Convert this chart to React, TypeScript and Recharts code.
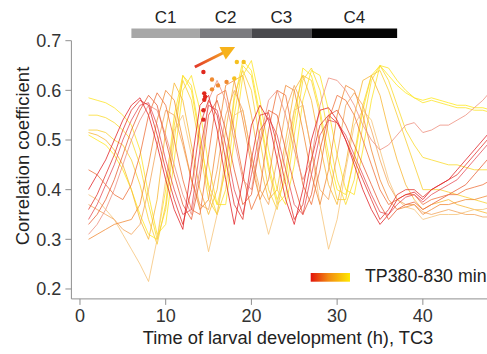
import React from "react";
import { ComposedChart, Line, Scatter, XAxis, YAxis, ReferenceArea, ReferenceLine } from "recharts";

const FONT = "'Liberation Sans', Arial, Helvetica, sans-serif";

// hours of larval development sampled by each profile
const hours = [
  1, 2, 3, 4, 5, 6, 7, 8, 9, 10, 11, 12, 13, 14, 15, 16, 17, 18, 19, 20, 21, 22, 23, 24,
  25, 26, 27, 28, 29, 30, 31, 32, 33, 34, 35, 36, 37, 38, 39, 40, 41, 42, 43, 44, 45, 46, 47, 48,
];

// correlation profiles, TP380 (red) ... TP830 (yellow)
const tp380 = [
  0.4, 0.43, 0.46, 0.5, 0.54, 0.57, 0.585, 0.55, 0.49, 0.42, 0.36, 0.32,
  0.45, 0.57, 0.59, 0.52, 0.42, 0.33, 0.42, 0.53, 0.57, 0.54, 0.46, 0.38,
  0.33, 0.4, 0.5, 0.56, 0.565, 0.54, 0.5, 0.45, 0.4, 0.36, 0.33, 0.35,
  0.38, 0.39, 0.395, 0.38, 0.4, 0.41, 0.42, 0.44, 0.46, 0.48, 0.5, 0.52,
];
const tp415 = [
  0.36, 0.39, 0.43, 0.47, 0.52, 0.56, 0.58, 0.57, 0.51, 0.44, 0.38, 0.33,
  0.4, 0.53, 0.58, 0.55, 0.46, 0.37, 0.34, 0.46, 0.55, 0.555, 0.49, 0.41,
  0.34, 0.37, 0.46, 0.53, 0.55, 0.535, 0.5, 0.46, 0.42, 0.38, 0.34, 0.36,
  0.39, 0.4, 0.4, 0.385, 0.4, 0.41, 0.42, 0.43, 0.45, 0.47, 0.49, 0.51,
];
const tp450 = [
  0.34, 0.37, 0.41, 0.45, 0.5, 0.54, 0.57, 0.575, 0.53, 0.46, 0.4, 0.35,
  0.36, 0.48, 0.57, 0.56, 0.49, 0.4, 0.35, 0.43, 0.52, 0.545, 0.51, 0.44,
  0.37, 0.35, 0.43, 0.51, 0.54, 0.535, 0.51, 0.47, 0.43, 0.39, 0.355, 0.35,
  0.37, 0.385, 0.39, 0.375, 0.39, 0.4, 0.41, 0.42, 0.44, 0.46, 0.48, 0.5,
];
const tp485 = [
  0.33, 0.35, 0.38, 0.42, 0.47, 0.52, 0.56, 0.59, 0.57, 0.5, 0.43, 0.37,
  0.34, 0.42, 0.55, 0.58, 0.52, 0.44, 0.37, 0.39, 0.49, 0.56, 0.55, 0.48,
  0.41, 0.35, 0.39, 0.48, 0.55, 0.56, 0.53, 0.49, 0.45, 0.41, 0.37, 0.34,
  0.36, 0.37, 0.375, 0.36, 0.37, 0.38, 0.39, 0.4, 0.41, 0.43, 0.45, 0.47,
];
const tp520 = [
  0.31, 0.33, 0.36, 0.4, 0.45, 0.5, 0.54, 0.57, 0.56, 0.51, 0.45, 0.39,
  0.35, 0.44, 0.58, 0.62, 0.58, 0.5, 0.42, 0.4, 0.5, 0.58, 0.6, 0.55,
  0.48, 0.42, 0.46, 0.57, 0.625, 0.62, 0.6, 0.57, 0.53, 0.5, 0.48, 0.49,
  0.51, 0.53, 0.535, 0.515, 0.52, 0.53, 0.53, 0.54, 0.55, 0.565, 0.58, 0.6,
];
const tp555 = [
  0.44, 0.43, 0.41, 0.39, 0.38, 0.41, 0.47, 0.55, 0.595, 0.57, 0.5, 0.42,
  0.36, 0.35, 0.47, 0.59, 0.6, 0.52, 0.43, 0.36, 0.4, 0.52, 0.6, 0.59,
  0.5, 0.41, 0.37, 0.44, 0.54, 0.59, 0.58, 0.55, 0.5, 0.45, 0.4, 0.37,
  0.38, 0.39, 0.39, 0.37, 0.38, 0.385, 0.39, 0.39, 0.4, 0.405, 0.41, 0.42,
];
const tp590 = [
  0.3, 0.31, 0.32, 0.33, 0.335, 0.34, 0.37, 0.45, 0.54, 0.6, 0.58, 0.5,
  0.42, 0.36, 0.38, 0.5, 0.61, 0.62, 0.54, 0.45, 0.38, 0.42, 0.53, 0.61,
  0.6, 0.52, 0.43, 0.37, 0.44, 0.55, 0.61, 0.6, 0.55, 0.48, 0.42, 0.38,
  0.36, 0.365, 0.37, 0.35, 0.36, 0.37, 0.37, 0.375, 0.38, 0.38, 0.385, 0.39,
];
const tp625 = [
  0.37, 0.36, 0.35, 0.34, 0.32, 0.31, 0.33, 0.4, 0.49, 0.56, 0.55, 0.49,
  0.42, 0.37, 0.36, 0.44, 0.55, 0.6, 0.56, 0.47, 0.4, 0.37, 0.46, 0.56,
  0.61, 0.57, 0.48, 0.4, 0.38, 0.47, 0.57, 0.595, 0.57, 0.52, 0.46, 0.41,
  0.38, 0.37, 0.37, 0.355, 0.35, 0.355, 0.36, 0.355, 0.35, 0.35, 0.345, 0.345,
];
const tp660 = [
  0.39, 0.38, 0.36, 0.34, 0.31, 0.28, 0.25, 0.215, 0.3, 0.42, 0.52, 0.55,
  0.47, 0.36, 0.275, 0.35, 0.47, 0.55, 0.56, 0.47, 0.38, 0.31, 0.37, 0.48,
  0.56, 0.57, 0.48, 0.37, 0.28, 0.34, 0.44, 0.53, 0.56, 0.54, 0.48, 0.42,
  0.38, 0.365, 0.36, 0.34, 0.345, 0.35, 0.35, 0.35, 0.355, 0.36, 0.36, 0.365,
];
const tp695 = [
  0.515, 0.51, 0.5, 0.48, 0.45, 0.4, 0.34, 0.3, 0.38, 0.52, 0.615, 0.58,
  0.49, 0.4, 0.35, 0.4, 0.52, 0.62, 0.63, 0.55, 0.45, 0.38, 0.4, 0.5,
  0.6, 0.63, 0.58, 0.49, 0.41, 0.37, 0.45, 0.55, 0.62, 0.63, 0.59, 0.52,
  0.46, 0.41, 0.38, 0.36, 0.37, 0.375, 0.38, 0.37, 0.365, 0.36, 0.355, 0.35,
];
const tp730 = [
  0.52, 0.52, 0.515, 0.5, 0.49, 0.46, 0.41, 0.34, 0.29, 0.37, 0.53, 0.62,
  0.58, 0.48, 0.38, 0.35, 0.45, 0.59, 0.64, 0.6, 0.5, 0.4, 0.36, 0.44,
  0.56, 0.63, 0.62, 0.55, 0.45, 0.38, 0.38, 0.47, 0.57, 0.63, 0.64, 0.6,
  0.55, 0.5, 0.45, 0.4, 0.4, 0.4, 0.395, 0.39, 0.385, 0.38, 0.375, 0.37,
];
const tp765 = [
  0.55, 0.55, 0.545, 0.535, 0.52, 0.5, 0.45, 0.37, 0.3, 0.36, 0.5, 0.63,
  0.61, 0.51, 0.4, 0.35, 0.4, 0.55, 0.65, 0.63, 0.54, 0.44, 0.37, 0.39,
  0.51, 0.62, 0.645, 0.6, 0.51, 0.42, 0.37, 0.42, 0.53, 0.62, 0.65, 0.62,
  0.57, 0.52, 0.49, 0.465, 0.46, 0.455, 0.45, 0.45, 0.445, 0.44, 0.44, 0.44,
];
const tp800 = [
  0.585, 0.58, 0.575, 0.565, 0.55, 0.53, 0.48, 0.39, 0.31, 0.33, 0.46, 0.6,
  0.63, 0.56, 0.45, 0.37, 0.37, 0.5, 0.63, 0.66, 0.58, 0.48, 0.4, 0.37,
  0.45, 0.58, 0.64, 0.63, 0.56, 0.47, 0.4, 0.39, 0.48, 0.58, 0.65, 0.645,
  0.62, 0.6, 0.585, 0.575, 0.58, 0.575, 0.57, 0.565, 0.565, 0.56, 0.56, 0.555,
];
const tp830 = [
  0.51, 0.5, 0.49, 0.47, 0.44, 0.4, 0.35, 0.31, 0.3, 0.4, 0.55, 0.63,
  0.6, 0.5, 0.41, 0.37, 0.44, 0.58, 0.66, 0.64, 0.55, 0.45, 0.38, 0.42,
  0.54, 0.645, 0.63, 0.56, 0.47, 0.4, 0.39, 0.46, 0.56, 0.63, 0.65, 0.63,
  0.61, 0.595, 0.585, 0.58, 0.585, 0.58, 0.575, 0.57, 0.57, 0.565, 0.565, 0.56,
];

const profiles = [tp380, tp415, tp450, tp485, tp520, tp555, tp590, tp625, tp660, tp695, tp730, tp765, tp800, tp830];
const profileColors = [
  "#e2262b", "#e43a33", "#e6505a", "#e9603a", "#ee9080", "#ef7440", "#f18c3a",
  "#f3a55c", "#f6c47a", "#f7b838", "#f9cf34", "#fadb2e", "#fce428", "#ffea1e",
];

// marked peaks
const redPeaks = [
  { x: 14.4, y: 0.637 }, { x: 14.5, y: 0.594 }, { x: 14.6, y: 0.587 },
  { x: 14.5, y: 0.581 }, { x: 14.4, y: 0.56 }, { x: 14.4, y: 0.541 },
];
const orangePeaks = [
  { x: 15.4, y: 0.622 }, { x: 16.1, y: 0.61 }, { x: 15.4, y: 0.602 }, { x: 17.1, y: 0.617 },
];
const yellowPeaks = [{ x: 18.0, y: 0.624 }, { x: 18.3, y: 0.657 }, { x: 19.1, y: 0.657 }];

// developmental stages bar
const stageNames = ["C1", "C2", "C3", "C4"];
const stageStart = [6, 14, 20, 27];
const stageEnd = [14, 20, 27, 37];
const stageColors = ["#a7a7a7", "#7b7b7f", "#49494d", "#050505"];

const xTicks = [0, 10, 20, 30, 40];
const yTicks = [0.2, 0.3, 0.4, 0.5, 0.6, 0.7];
const arrowFrom = { x: 13.4, y: 0.647 };
const arrowTo = { x: 18.1, y: 0.6875 };

function Arrow({ x1, y1, x2, y2 }: any) {
  const dx = x2 - x1;
  const dy = y2 - y1;
  const len = Math.sqrt(dx * dx + dy * dy) || 1;
  const ux = dx / len;
  const uy = dy / len;
  const head = 14;
  const bx = x2 - ux * head;
  const by = y2 - uy * head;
  const px = -uy * 7;
  const py = ux * 7;
  return (
    <g>
      <line x1={x1} y1={y1} x2={bx + ux * 2} y2={by + uy * 2} stroke="url(#arrowGrad)" strokeWidth={3} />
      <polygon points={`${x2},${y2} ${bx + px},${by + py} ${bx - px},${by - py}`} fill="#f7b21a" />
    </g>
  );
}

export default function App() {
  const tick = { fill: "#333", fontSize: 18, fontFamily: FONT };
  const order = profiles.map((_, i) => profiles.length - 1 - i);
  return (
    <div style={{ position: "relative", width: 487, height: 354, overflow: "hidden", fontFamily: FONT }}>
      {/* the figure runs to the window edge, so drop the default body margin */}
      <style>{"body{margin:0}"}</style>
      <div style={{ position: "absolute", left: 8, top: 8, width: 479, height: 346 }}>
        <ComposedChart width={492} height={346} margin={{ top: 32.7, right: 0, bottom: 0, left: 0 }}>
          <defs>
            <linearGradient id="arrowGrad" x1="0" y1="0" x2="1" y2="0">
              <stop offset="0%" stopColor="#e2382a" />
              <stop offset="100%" stopColor="#f5a323" />
            </linearGradient>
          </defs>
          <XAxis
            type="number"
            dataKey="x"
            domain={[-1, 49]}
            ticks={xTicks}
            allowDataOverflow
            height={55.1}
            stroke="#8f8f8f"
            tickSize={6}
            tickMargin={4}
            tick={tick}
          />
          <YAxis
            type="number"
            dataKey="y"
            domain={[0.18, 0.7]}
            ticks={yTicks}
            allowDataOverflow
            width={63.4}
            stroke="#8f8f8f"
            tickSize={6}
            tickMargin={4}
            tick={tick}
            tickFormatter={(v: number) => v.toFixed(1)}
          />
          {stageNames.map((name, i) => (
            <ReferenceArea
              key={name}
              x1={stageStart[i]}
              x2={stageEnd[i]}
              y1={0.7056}
              y2={0.7245}
              fill={stageColors[i]}
              fillOpacity={1}
              stroke="none"
              ifOverflow="visible"
              label={{ value: name, position: "top", offset: 6, fill: "#222", fontSize: 17, fontFamily: FONT }}
            />
          ))}
          {order.map((i) => (
            <Line
              key={i}
              data={profiles[i].map((v, j) => ({ x: hours[j], y: v }))}
              dataKey="y"
              type="linear"
              stroke={profileColors[i]}
              strokeWidth={1}
              strokeOpacity={0.8}
              dot={false}
              activeDot={false}
              isAnimationActive={false}
            />
          ))}
          <Scatter data={redPeaks} dataKey="y" fill="#e0281e" isAnimationActive={false}
            shape={(p: any) => <circle cx={p.cx} cy={p.cy} r={2.2} fill="#e0281e" />} />
          <Scatter data={orangePeaks} dataKey="y" fill="#ef8a30" isAnimationActive={false}
            shape={(p: any) => <circle cx={p.cx} cy={p.cy} r={2.2} fill="#ef8a30" />} />
          <Scatter data={yellowPeaks} dataKey="y" fill="#f5c020" isAnimationActive={false}
            shape={(p: any) => <circle cx={p.cx} cy={p.cy} r={2.2} fill="#f5c020" />} />
          <ReferenceLine segment={[arrowFrom, arrowTo]} ifOverflow="visible" shape={(p: any) => <Arrow {...p} />} />
        </ComposedChart>
        <svg width={479} height={346} style={{ position: "absolute", left: 0, top: 0, pointerEvents: "none" }}>
          <defs>
            <linearGradient id="legendGrad" x1="0" y1="0" x2="1" y2="0">
              <stop offset="0%" stopColor="#e2130c" />
              <stop offset="45%" stopColor="#f28a12" />
              <stop offset="100%" stopColor="#ffe800" />
            </linearGradient>
          </defs>
          <rect x={302.7} y={265} width={39.3} height={8.7} fill="url(#legendGrad)" />
          <text x={357} y={273.7} fill="#222" fontSize={17.8} fontFamily={FONT}>
            TP380-830 min
          </text>
          <text x={280} y={336} textAnchor="middle" fill="#222" fontSize={18.3} fontFamily={FONT}>
            Time of larval development (h), TC3
          </text>
          <text x={20.5} y={148} transform="rotate(-90 20.5 148)" textAnchor="middle" fill="#222" fontSize={18.5} fontFamily={FONT}>
            Correlation coefficient
          </text>
        </svg>
      </div>
    </div>
  );
}
